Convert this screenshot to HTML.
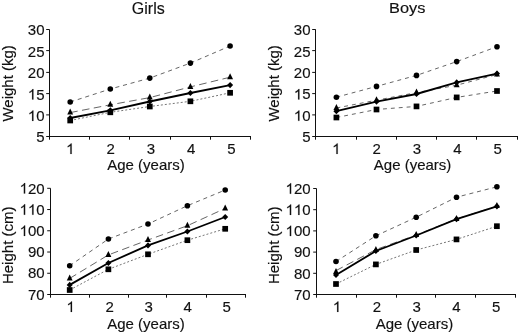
<!DOCTYPE html>
<html><head><meta charset="utf-8"><style>
html,body{margin:0;padding:0;background:#fff;}
svg{display:block;will-change:transform;filter:blur(0.2px);}
text{font-family:"Liberation Sans", sans-serif;fill:#111;stroke:#111;stroke-width:0.15px;}
.one{fill:#111;stroke:#111;}
</style></head><body>
<svg width="520" height="335" viewBox="0 0 520 335">
<rect width="520" height="335" fill="#fff"/>
<g fill="#000">
<path d="M49.5 29.5V139.7M49.5 136.5H251" stroke="#111" stroke-width="1" fill="none"/>
<path d="M46.20 29.50H49.5M46.20 50.60H49.5M46.20 72.40H49.5M46.20 93.60H49.5M46.20 114.90H49.5M46.20 136.50H49.5M89.50 136.5V139.7M129.50 136.5V139.7M170.50 136.5V139.7M210.50 136.5V139.7M250.50 136.5V139.7" stroke="#111" stroke-width="1" fill="none"/>
<text x="27.82" y="35.30" font-size="15">3</text><text x="36.16" y="35.30" font-size="15">0</text>
<text x="27.82" y="56.70" font-size="15">2</text><text x="36.16" y="56.70" font-size="15">5</text>
<text x="27.82" y="78.10" font-size="15">2</text><text x="36.16" y="78.10" font-size="15">0</text>
<path class="one" transform="translate(27.82 99.50) scale(0.00732 -0.00732)" d="M763 0H583V1114Q518 1054 412 994Q306 934 223 903V1072Q374 1141 487 1240Q600 1338 647 1430H763Z" stroke-width="20.5"/><text x="36.16" y="99.50" font-size="15">5</text>
<path class="one" transform="translate(27.82 120.90) scale(0.00732 -0.00732)" d="M763 0H583V1114Q518 1054 412 994Q306 934 223 903V1072Q374 1141 487 1240Q600 1338 647 1430H763Z" stroke-width="20.5"/><text x="36.16" y="120.90" font-size="15">0</text>
<text x="36.16" y="142.30" font-size="15">5</text>
<path class="one" transform="translate(66.08 153.90) scale(0.00732 -0.00732)" d="M763 0H583V1114Q518 1054 412 994Q306 934 223 903V1072Q374 1141 487 1240Q600 1338 647 1430H763Z" stroke-width="20.5"/>
<text x="106.38" y="153.90" font-size="15">2</text>
<text x="146.68" y="153.90" font-size="15">3</text>
<text x="186.98" y="153.90" font-size="15">4</text>
<text x="227.28" y="153.90" font-size="15">5</text>
<text x="146.0" y="170.0" text-anchor="middle" font-size="15">Age (years)</text>
<text transform="translate(12.6 83.4) rotate(-90)" x="0" y="0" text-anchor="middle" font-size="15">Weight (kg)</text>
<text transform="translate(148.3 14.0) scale(1.0 1)" text-anchor="middle" font-size="16">Girls</text>
<path d="M70.20 102.00L110.30 89.00L149.80 78.10L190.40 63.10L230.10 46.00" stroke="#666" stroke-width="1" stroke-dasharray="4.1 3.8" fill="none"/>
<path d="M70.20 112.60L110.30 104.80L149.80 97.60L190.40 86.90L230.10 77.20" stroke="#666" stroke-width="1" stroke-dasharray="7.6 4.4" fill="none"/>
<path d="M70.20 120.50L110.30 112.30L149.80 106.50L190.40 101.30L230.10 92.80" stroke="#777" stroke-width="1" stroke-dasharray="2 2" fill="none"/>
<path d="M70.20 118.00L110.30 110.30L149.80 101.50L190.40 93.00L230.10 85.10" stroke="#000" stroke-width="1.85" fill="none"/>
<rect x="67.35" y="117.65" width="5.70" height="5.70"/>
<rect x="107.45" y="109.45" width="5.70" height="5.70"/>
<rect x="146.95" y="103.65" width="5.70" height="5.70"/>
<rect x="187.55" y="98.45" width="5.70" height="5.70"/>
<rect x="227.25" y="89.95" width="5.70" height="5.70"/>
<path d="M70.20 108.60L73.15 114.60L67.25 114.60Z"/>
<path d="M110.30 100.80L113.25 106.80L107.35 106.80Z"/>
<path d="M149.80 93.60L152.75 99.60L146.85 99.60Z"/>
<path d="M190.40 82.90L193.35 88.90L187.45 88.90Z"/>
<path d="M230.10 73.20L233.05 79.20L227.15 79.20Z"/>
<circle cx="70.20" cy="102.00" r="2.8"/>
<circle cx="110.30" cy="89.00" r="2.8"/>
<circle cx="149.80" cy="78.10" r="2.8"/>
<circle cx="190.40" cy="63.10" r="2.8"/>
<circle cx="230.10" cy="46.00" r="2.8"/>
<path d="M70.20 114.90L73.20 118.00L70.20 121.10L67.20 118.00Z"/>
<path d="M110.30 107.20L113.30 110.30L110.30 113.40L107.30 110.30Z"/>
<path d="M149.80 98.40L152.80 101.50L149.80 104.60L146.80 101.50Z"/>
<path d="M190.40 89.90L193.40 93.00L190.40 96.10L187.40 93.00Z"/>
<path d="M230.10 82.00L233.10 85.10L230.10 88.20L227.10 85.10Z"/>
<path d="M315.5 29.3V139.7M315.5 136.5H518" stroke="#111" stroke-width="1" fill="none"/>
<path d="M312.20 29.50H315.5M312.20 50.60H315.5M312.20 72.40H315.5M312.20 93.60H315.5M312.20 114.90H315.5M312.20 136.50H315.5M356.50 136.5V139.7M396.50 136.5V139.7M436.50 136.5V139.7M476.50 136.5V139.7M517.50 136.5V139.7" stroke="#111" stroke-width="1" fill="none"/>
<text x="293.82" y="35.10" font-size="15">3</text><text x="302.16" y="35.10" font-size="15">0</text>
<text x="293.82" y="56.54" font-size="15">2</text><text x="302.16" y="56.54" font-size="15">5</text>
<text x="293.82" y="77.98" font-size="15">2</text><text x="302.16" y="77.98" font-size="15">0</text>
<path class="one" transform="translate(293.82 99.42) scale(0.00732 -0.00732)" d="M763 0H583V1114Q518 1054 412 994Q306 934 223 903V1072Q374 1141 487 1240Q600 1338 647 1430H763Z" stroke-width="20.5"/><text x="302.16" y="99.42" font-size="15">5</text>
<path class="one" transform="translate(293.82 120.86) scale(0.00732 -0.00732)" d="M763 0H583V1114Q518 1054 412 994Q306 934 223 903V1072Q374 1141 487 1240Q600 1338 647 1430H763Z" stroke-width="20.5"/><text x="302.16" y="120.86" font-size="15">0</text>
<text x="302.16" y="142.30" font-size="15">5</text>
<path class="one" transform="translate(332.11 153.90) scale(0.00732 -0.00732)" d="M763 0H583V1114Q518 1054 412 994Q306 934 223 903V1072Q374 1141 487 1240Q600 1338 647 1430H763Z" stroke-width="20.5"/>
<text x="372.47" y="153.90" font-size="15">2</text>
<text x="412.83" y="153.90" font-size="15">3</text>
<text x="453.19" y="153.90" font-size="15">4</text>
<text x="493.55" y="153.90" font-size="15">5</text>
<text x="412.6" y="170.0" text-anchor="middle" font-size="15">Age (years)</text>
<text transform="translate(278.6 83.4) rotate(-90)" x="0" y="0" text-anchor="middle" font-size="15">Weight (kg)</text>
<text transform="translate(407.2 12.95) scale(1.075 1)" text-anchor="middle" font-size="15.2">Boys</text>
<path d="M336.40 97.20L376.50 86.40L416.50 75.40L456.70 61.60L497.00 46.70" stroke="#666" stroke-width="1" stroke-dasharray="3.9 4" fill="none"/>
<path d="M336.40 108.00L376.50 100.20L416.50 92.60L456.70 85.20L497.00 74.50" stroke="#666" stroke-width="1" stroke-dasharray="3.9 4" fill="none"/>
<path d="M336.40 117.50L376.50 109.50L416.50 106.40L456.70 97.40L497.00 91.00" stroke="#666" stroke-width="1" stroke-dasharray="3.9 4" fill="none"/>
<path d="M336.40 111.20L376.50 101.60L416.50 94.00L456.70 82.40L497.00 73.60" stroke="#000" stroke-width="1.85" fill="none"/>
<rect x="333.55" y="114.65" width="5.70" height="5.70"/>
<rect x="373.65" y="106.65" width="5.70" height="5.70"/>
<rect x="413.65" y="103.55" width="5.70" height="5.70"/>
<rect x="453.85" y="94.55" width="5.70" height="5.70"/>
<rect x="494.15" y="88.15" width="5.70" height="5.70"/>
<path d="M336.40 104.00L339.35 110.00L333.45 110.00Z"/>
<path d="M376.50 96.20L379.45 102.20L373.55 102.20Z"/>
<path d="M416.50 88.60L419.45 94.60L413.55 94.60Z"/>
<path d="M456.70 81.20L459.65 87.20L453.75 87.20Z"/>
<path d="M497.00 70.50L499.95 76.50L494.05 76.50Z"/>
<circle cx="336.40" cy="97.20" r="2.8"/>
<circle cx="376.50" cy="86.40" r="2.8"/>
<circle cx="416.50" cy="75.40" r="2.8"/>
<circle cx="456.70" cy="61.60" r="2.8"/>
<circle cx="497.00" cy="46.70" r="2.8"/>
<path d="M336.40 108.10L339.40 111.20L336.40 114.30L333.40 111.20Z"/>
<path d="M376.50 98.50L379.50 101.60L376.50 104.70L373.50 101.60Z"/>
<path d="M416.50 90.90L419.50 94.00L416.50 97.10L413.50 94.00Z"/>
<path d="M456.70 79.30L459.70 82.40L456.70 85.50L453.70 82.40Z"/>
<path d="M497.00 70.50L500.00 73.60L497.00 76.70L494.00 73.60Z"/>
<path d="M50.5 188.3V297.7M50.5 294.5H246" stroke="#111" stroke-width="1" fill="none"/>
<path d="M47.20 188.30H50.5M47.20 209.54H50.5M47.20 230.78H50.5M47.20 252.02H50.5M47.20 273.26H50.5M47.20 294.50H50.5M89.50 294.5V297.7M128.50 294.5V297.7M166.50 294.5V297.7M206.50 294.5V297.7M245.50 294.5V297.7" stroke="#111" stroke-width="1" fill="none"/>
<path class="one" transform="translate(19.57 193.50) scale(0.00732 -0.00732)" d="M763 0H583V1114Q518 1054 412 994Q306 934 223 903V1072Q374 1141 487 1240Q600 1338 647 1430H763Z" stroke-width="20.5"/><text x="27.92" y="193.50" font-size="15">2</text><text x="36.26" y="193.50" font-size="15">0</text>
<path class="one" transform="translate(19.57 214.74) scale(0.00732 -0.00732)" d="M763 0H583V1114Q518 1054 412 994Q306 934 223 903V1072Q374 1141 487 1240Q600 1338 647 1430H763Z" stroke-width="20.5"/><path class="one" transform="translate(27.92 214.74) scale(0.00732 -0.00732)" d="M763 0H583V1114Q518 1054 412 994Q306 934 223 903V1072Q374 1141 487 1240Q600 1338 647 1430H763Z" stroke-width="20.5"/><text x="36.26" y="214.74" font-size="15">0</text>
<path class="one" transform="translate(19.57 235.98) scale(0.00732 -0.00732)" d="M763 0H583V1114Q518 1054 412 994Q306 934 223 903V1072Q374 1141 487 1240Q600 1338 647 1430H763Z" stroke-width="20.5"/><text x="27.92" y="235.98" font-size="15">0</text><text x="36.26" y="235.98" font-size="15">0</text>
<text x="27.92" y="257.22" font-size="15">9</text><text x="36.26" y="257.22" font-size="15">0</text>
<text x="27.92" y="278.46" font-size="15">8</text><text x="36.26" y="278.46" font-size="15">0</text>
<text x="27.92" y="299.70" font-size="15">7</text><text x="36.26" y="299.70" font-size="15">0</text>
<path class="one" transform="translate(66.44 311.90) scale(0.00732 -0.00732)" d="M763 0H583V1114Q518 1054 412 994Q306 934 223 903V1072Q374 1141 487 1240Q600 1338 647 1430H763Z" stroke-width="20.5"/>
<text x="105.46" y="311.90" font-size="15">2</text>
<text x="144.48" y="311.90" font-size="15">3</text>
<text x="183.50" y="311.90" font-size="15">4</text>
<text x="222.52" y="311.90" font-size="15">5</text>
<text x="146.0" y="328.8" text-anchor="middle" font-size="15">Age (years)</text>
<text transform="translate(12.6 245.3) rotate(-90)" x="0" y="0" text-anchor="middle" font-size="15">Height (cm)</text>
<path d="M69.70 265.75L108.40 239.00L148.00 224.00L187.40 205.70L225.20 190.00" stroke="#666" stroke-width="1" stroke-dasharray="4.1 3.8" fill="none"/>
<path d="M69.70 278.40L108.40 254.90L148.00 240.00L187.40 225.70L225.20 208.40" stroke="#666" stroke-width="1" stroke-dasharray="7.6 4.4" fill="none"/>
<path d="M69.70 290.00L108.40 269.30L148.00 254.30L187.40 240.20L225.20 228.80" stroke="#777" stroke-width="1" stroke-dasharray="2 2" fill="none"/>
<path d="M69.70 284.90L108.40 263.00L148.00 245.40L187.40 231.50L225.20 217.00" stroke="#000" stroke-width="1.85" fill="none"/>
<rect x="66.85" y="287.15" width="5.70" height="5.70"/>
<rect x="105.55" y="266.45" width="5.70" height="5.70"/>
<rect x="145.15" y="251.45" width="5.70" height="5.70"/>
<rect x="184.55" y="237.35" width="5.70" height="5.70"/>
<rect x="222.35" y="225.95" width="5.70" height="5.70"/>
<path d="M69.70 274.40L72.65 280.40L66.75 280.40Z"/>
<path d="M108.40 250.90L111.35 256.90L105.45 256.90Z"/>
<path d="M148.00 236.00L150.95 242.00L145.05 242.00Z"/>
<path d="M187.40 221.70L190.35 227.70L184.45 227.70Z"/>
<path d="M225.20 204.40L228.15 210.40L222.25 210.40Z"/>
<circle cx="69.70" cy="265.75" r="2.8"/>
<circle cx="108.40" cy="239.00" r="2.8"/>
<circle cx="148.00" cy="224.00" r="2.8"/>
<circle cx="187.40" cy="205.70" r="2.8"/>
<circle cx="225.20" cy="190.00" r="2.8"/>
<path d="M69.70 281.80L72.70 284.90L69.70 288.00L66.70 284.90Z"/>
<path d="M108.40 259.90L111.40 263.00L108.40 266.10L105.40 263.00Z"/>
<path d="M148.00 242.30L151.00 245.40L148.00 248.50L145.00 245.40Z"/>
<path d="M187.40 228.40L190.40 231.50L187.40 234.60L184.40 231.50Z"/>
<path d="M225.20 213.90L228.20 217.00L225.20 220.10L222.20 217.00Z"/>
<path d="M316.5 188.5V297.7M316.5 294.5H516" stroke="#111" stroke-width="1" fill="none"/>
<path d="M313.20 188.50H316.5M313.20 209.70H316.5M313.20 230.90H316.5M313.20 252.10H316.5M313.20 273.30H316.5M313.20 294.50H316.5M356.50 294.5V297.7M396.50 294.5V297.7M435.50 294.5V297.7M475.50 294.5V297.7M515.50 294.5V297.7" stroke="#111" stroke-width="1" fill="none"/>
<path class="one" transform="translate(285.57 193.70) scale(0.00732 -0.00732)" d="M763 0H583V1114Q518 1054 412 994Q306 934 223 903V1072Q374 1141 487 1240Q600 1338 647 1430H763Z" stroke-width="20.5"/><text x="293.92" y="193.70" font-size="15">2</text><text x="302.26" y="193.70" font-size="15">0</text>
<path class="one" transform="translate(285.57 214.90) scale(0.00732 -0.00732)" d="M763 0H583V1114Q518 1054 412 994Q306 934 223 903V1072Q374 1141 487 1240Q600 1338 647 1430H763Z" stroke-width="20.5"/><path class="one" transform="translate(293.92 214.90) scale(0.00732 -0.00732)" d="M763 0H583V1114Q518 1054 412 994Q306 934 223 903V1072Q374 1141 487 1240Q600 1338 647 1430H763Z" stroke-width="20.5"/><text x="302.26" y="214.90" font-size="15">0</text>
<path class="one" transform="translate(285.57 236.10) scale(0.00732 -0.00732)" d="M763 0H583V1114Q518 1054 412 994Q306 934 223 903V1072Q374 1141 487 1240Q600 1338 647 1430H763Z" stroke-width="20.5"/><text x="293.92" y="236.10" font-size="15">0</text><text x="302.26" y="236.10" font-size="15">0</text>
<text x="293.92" y="257.30" font-size="15">9</text><text x="302.26" y="257.30" font-size="15">0</text>
<text x="293.92" y="278.50" font-size="15">8</text><text x="302.26" y="278.50" font-size="15">0</text>
<text x="293.92" y="299.70" font-size="15">7</text><text x="302.26" y="299.70" font-size="15">0</text>
<path class="one" transform="translate(332.83 311.90) scale(0.00732 -0.00732)" d="M763 0H583V1114Q518 1054 412 994Q306 934 223 903V1072Q374 1141 487 1240Q600 1338 647 1430H763Z" stroke-width="20.5"/>
<text x="372.63" y="311.90" font-size="15">2</text>
<text x="412.43" y="311.90" font-size="15">3</text>
<text x="452.23" y="311.90" font-size="15">4</text>
<text x="492.03" y="311.90" font-size="15">5</text>
<text x="414.4" y="329.0" text-anchor="middle" font-size="15">Age (years)</text>
<text transform="translate(279.0 245.3) rotate(-90)" x="0" y="0" text-anchor="middle" font-size="15">Height (cm)</text>
<path d="M336.00 261.50L375.90 235.80L416.20 217.20L456.50 197.20L496.90 186.80" stroke="#666" stroke-width="1" stroke-dasharray="4.1 3.8" fill="none"/>
<path d="M336.00 270.60L375.90 249.60L416.20 235.00L456.50 219.00L496.90 206.10" stroke="#666" stroke-width="1" stroke-dasharray="7.6 4.4" fill="none"/>
<path d="M336.00 284.00L375.90 264.40L416.20 250.00L456.50 239.40L496.90 226.20" stroke="#777" stroke-width="1" stroke-dasharray="2 2" fill="none"/>
<path d="M336.00 275.00L375.90 251.00L416.20 235.50L456.50 219.20L496.90 206.30" stroke="#000" stroke-width="1.85" fill="none"/>
<rect x="333.15" y="281.15" width="5.70" height="5.70"/>
<rect x="373.05" y="261.55" width="5.70" height="5.70"/>
<rect x="413.35" y="247.15" width="5.70" height="5.70"/>
<rect x="453.65" y="236.55" width="5.70" height="5.70"/>
<rect x="494.05" y="223.35" width="5.70" height="5.70"/>
<path d="M336.00 268.00L338.95 274.00L333.05 274.00Z"/>
<path d="M375.90 246.00L378.85 252.00L372.95 252.00Z"/>
<path d="M416.20 231.00L419.15 237.00L413.25 237.00Z"/>
<path d="M456.50 215.00L459.45 221.00L453.55 221.00Z"/>
<path d="M496.90 202.10L499.85 208.10L493.95 208.10Z"/>
<circle cx="336.00" cy="261.50" r="2.8"/>
<circle cx="375.90" cy="235.80" r="2.8"/>
<circle cx="416.20" cy="217.20" r="2.8"/>
<circle cx="456.50" cy="197.20" r="2.8"/>
<circle cx="496.90" cy="186.80" r="2.8"/>
<path d="M336.00 271.90L339.00 275.00L336.00 278.10L333.00 275.00Z"/>
<path d="M375.90 247.90L378.90 251.00L375.90 254.10L372.90 251.00Z"/>
<path d="M416.20 232.40L419.20 235.50L416.20 238.60L413.20 235.50Z"/>
<path d="M456.50 216.10L459.50 219.20L456.50 222.30L453.50 219.20Z"/>
<path d="M496.90 203.20L499.90 206.30L496.90 209.40L493.90 206.30Z"/>
</g>
</svg>
</body></html>
